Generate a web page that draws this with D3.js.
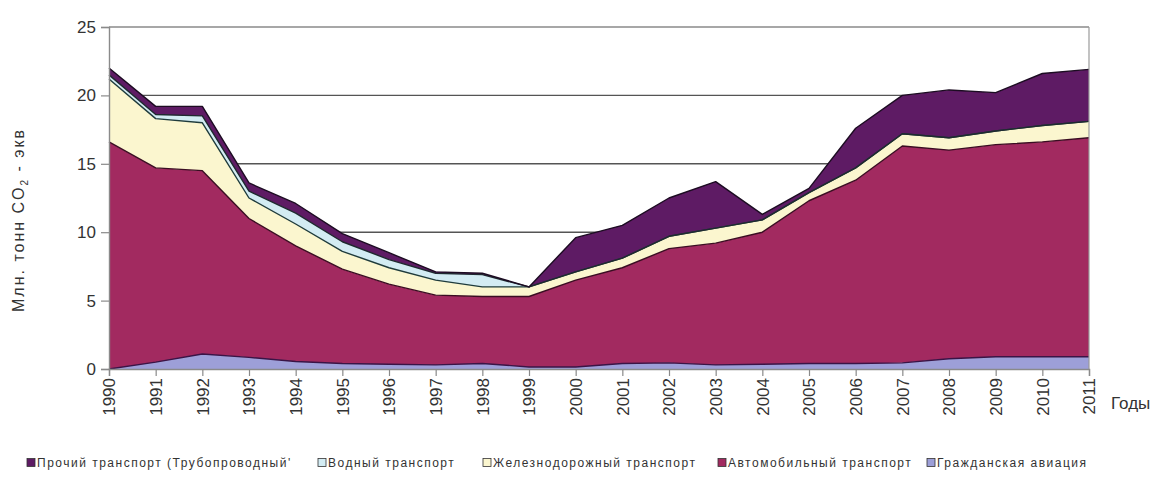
<!DOCTYPE html>
<html><head><meta charset="utf-8">
<script src="https://cdn.jsdelivr.net/npm/d3@7"></script>
<style>
body{margin:0;background:#fff;}
svg{display:block;font-family:Arial,"Liberation Sans",sans-serif;}
</style></head>
<body>
<svg id="chart" width="1153" height="486"></svg>
<script>
const years = [1990,1991,1992,1993,1994,1995,1996,1997,1998,1999,2000,2001,2002,2003,2004,2005,2006,2007,2008,2009,2010,2011];
const aviation = [0,0.5,1.1,0.85,0.55,0.4,0.35,0.3,0.4,0.15,0.15,0.4,0.45,0.3,0.35,0.4,0.4,0.45,0.75,0.9,0.9,0.9];
const road     = [16.6,14.2,13.4,10.15,8.45,6.9,5.85,5.1,4.9,5.15,6.35,7.0,8.35,8.9,9.65,11.9,13.4,15.85,15.25,15.5,15.7,16.0];
const rail     = [4.6,3.6,3.5,1.5,1.6,1.3,1.2,1.1,0.7,0.7,0.6,0.7,0.9,1.1,0.9,0.6,0.9,0.9,0.9,1.0,1.2,1.2];
const water    = [0.3,0.3,0.5,0.5,0.8,0.7,0.6,0.5,0.9,0,0,0,0,0,0,0,0,0,0,0,0,0];
const other    = [0.5,0.6,0.7,0.6,0.7,0.6,0.5,0.1,0.1,0,2.5,2.4,2.8,3.4,0.4,0.3,2.9,2.8,3.5,2.8,3.8,3.8];
const yTicks = [0,5,10,15,20,25];
const gridValues = [10,15,20,25];

const seriesKeys = ["aviation","road","rail","water","other"];
const seriesNames = {
  other: "Прочий транспорт (Трубопроводный'",
  water: "Водный транспорт",
  rail: "Железнодорожный транспорт",
  road: "Автомобильный транспорт",
  aviation: "Гражданская авиация"
};
const colors = {aviation:"#9d9fd8", road:"#a22a60", rail:"#fbf6cf", water:"#d3ecf3", other:"#5e1b64"};
const lineColors = {aviation:"#3a1446", road:"#3a0d22", rail:"#1f3b3b", water:"#1f2a30", other:"#1c0c22"};
const legendOrder = ["other","water","rail","road","aviation"];
const legendX = [27,318,483,718,927];

const table = years.map((y,i)=>({year:y, aviation:aviation[i], road:road[i], rail:rail[i], water:water[i], other:other[i]}));

const svg = d3.select("#chart");
const x = d3.scaleLinear().domain([1990,2011]).range([109,1089]);
const y = d3.scaleLinear().domain([0,25]).range([369,27]);

// gridlines
svg.append("g").selectAll("line").data(gridValues).join("line")
  .attr("x1",x(1990)).attr("x2",x(2011))
  .attr("y1",d=>y(d)).attr("y2",d=>y(d))
  .attr("stroke",d=>d===25?"#8a8a8a":"#555").attr("stroke-width",1.4);

const stack = d3.stack().keys(seriesKeys);
const layers = stack(table);

const area = d3.area().x(d=>x(d.data.year)).y0(d=>y(d[0])).y1(d=>y(d[1]));
const topLine = d3.line().x(d=>x(d.data.year)).y(d=>y(d[1]));

svg.append("g").selectAll("path").data(layers).join("path")
  .attr("d",area).attr("fill",d=>colors[d.key]);
svg.append("g").selectAll("path").data(layers).join("path")
  .attr("d",topLine).attr("fill","none")
  .attr("stroke",d=>lineColors[d.key]).attr("stroke-width",1.4)
  .attr("stroke-linejoin","round");

// right border
svg.append("line").attr("x1",x(2011)).attr("x2",x(2011)).attr("y1",y(25)).attr("y2",y(0))
  .attr("stroke","#9a9a9a").attr("stroke-width",1.2);

// y axis
const yAxis = d3.axisLeft(y).tickValues(yTicks).tickSize(8).tickPadding(5);
const gy = svg.append("g").attr("transform",`translate(${x(1990)},0)`).call(yAxis);
gy.select(".domain").attr("stroke","#8a8a8a").attr("stroke-width",1.4);
gy.selectAll(".tick line").attr("stroke","#8a8a8a").attr("stroke-width",1.2);
gy.selectAll("text").attr("font-size","17px").attr("fill","#333");

// x axis
const xAxis = d3.axisBottom(x).tickValues(years).tickFormat(d3.format("d")).tickSize(7).tickPadding(4);
const gx = svg.append("g").attr("transform",`translate(0,${y(0)})`).call(xAxis);
gx.select(".domain").attr("stroke","#8a8a8a").attr("stroke-width",1.4);
gx.selectAll(".tick line").attr("stroke","#8a8a8a").attr("stroke-width",1.2);
gx.selectAll("text").attr("font-size","17px").attr("fill","#333")
  .attr("transform","rotate(-90)").attr("text-anchor","end")
  .attr("x",-9).attr("y",0).attr("dy","0.35em");

// axis titles
const yt = svg.append("text").attr("transform","translate(24,220) rotate(-90)")
  .attr("text-anchor","middle").attr("font-size","16px").attr("letter-spacing","2px").attr("fill","#333");
yt.append("tspan").text("Млн. тонн CO");
yt.append("tspan").attr("font-size","10px").attr("dy","4").text("2");
yt.append("tspan").attr("dy","-4").text(" - экв");

svg.append("text").attr("x",1111).attr("y",409).attr("font-size","17px").attr("fill","#333").text("Годы");

// legend
const lg = svg.append("g");
legendOrder.forEach((k,i)=>{
  const g = lg.append("g").attr("transform",`translate(${legendX[i]},463)`);
  g.append("rect").attr("x",0).attr("y",-4.5).attr("width",8).attr("height",8)
    .attr("fill",colors[k]).attr("stroke","#333").attr("stroke-width",0.8);
  g.append("text").attr("x",10).attr("y",0).attr("dy","0.35em")
    .attr("font-size","12px").attr("letter-spacing","1.5px").attr("fill","#333").text(seriesNames[k]);
});
</script>
</body></html>
